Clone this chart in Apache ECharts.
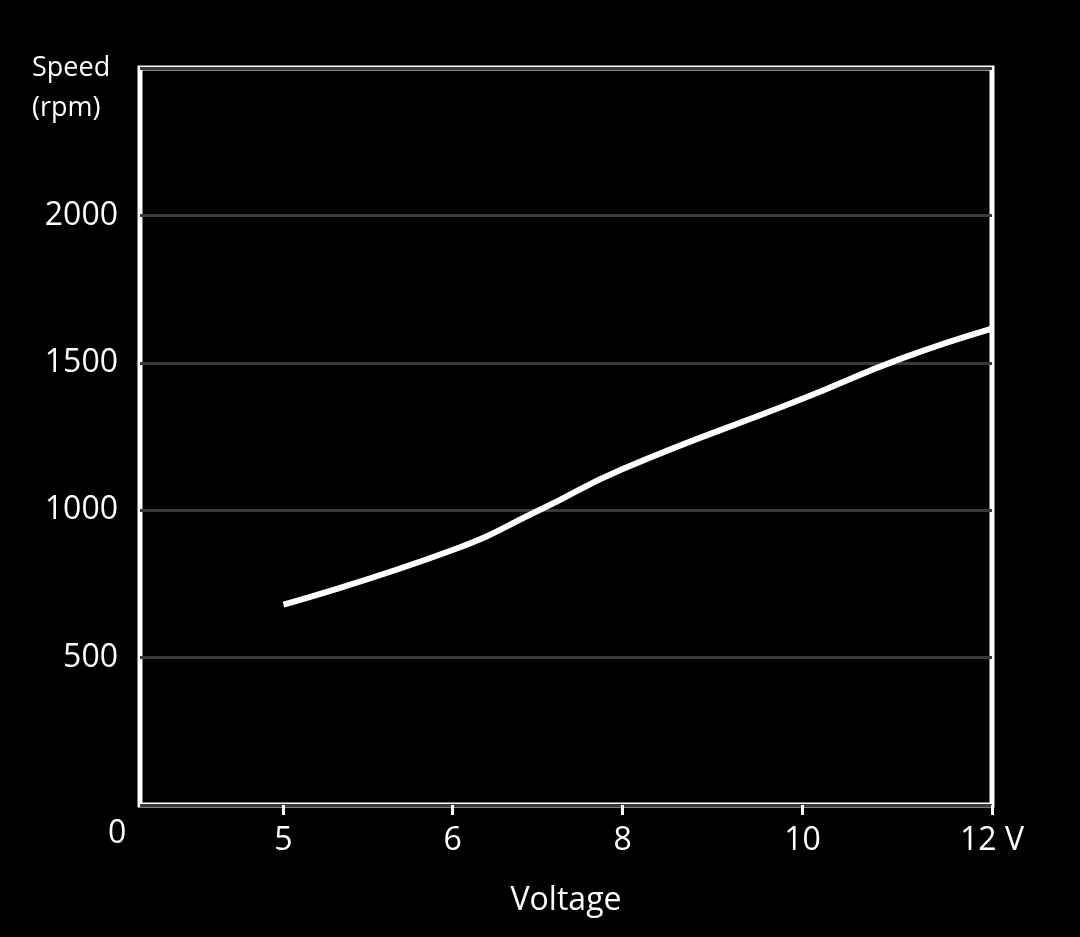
<!DOCTYPE html>
<html>
<head>
<meta charset="utf-8">
<script src="https://cdn.jsdelivr.net/npm/echarts@6/dist/echarts.min.js"></script>
<style>html,body{margin:0;background:#000}#main{width:1080px;height:937px}</style>
</head>
<body>
<div id="main"></div>
<script>
// tick voltages sit at near-even spacing on the original chart
var tickVolts = [5, 6, 8, 10, 12];
var tickPos = [1, 1.955, 2.915, 3.93, 5];
var tickLabels = ['5', '6', '8', '10', '12 V'];
var voltage = [5, 6, 7.04, 8, 10, 11.04, 12];
var speed = [680, 865, 1003, 1140, 1378, 1514, 1616];

// map a voltage onto the tick position scale
function toPos(v) {
    for (var i = 0; i < tickVolts.length - 1; i++) {
        if (v <= tickVolts[i + 1]) {
            return tickPos[i] + (v - tickVolts[i]) / (tickVolts[i + 1] - tickVolts[i]) * (tickPos[i + 1] - tickPos[i]);
        }
    }
    return tickPos[tickPos.length - 1];
}

var chart = echarts.init(document.getElementById('main'));
var font = '"Open Sans", sans-serif';
chart.setOption({
    backgroundColor: '#000',
    animation: false,
    grid: {left: 140, right: 88, top: 68, bottom: 132, show: true, borderColor: '#fff', borderWidth: 5},
    xAxis: {
        type: 'value', min: 0.19, max: 5,
        name: 'Voltage', nameLocation: 'middle', nameGap: 80,
        nameTextStyle: {color: '#fff', fontSize: 32, fontFamily: font},
        axisLine: {show: false},
        splitLine: {show: false},
        axisTick: {show: true, customValues: tickPos, length: 10, lineStyle: {color: '#fff', width: 3}},
        axisLabel: {
            customValues: tickPos, color: '#fff', fontSize: 32, fontFamily: font, margin: 20,
            formatter: function (v) { return tickLabels[tickPos.indexOf(v)]; }
        }
    },
    yAxis: {
        type: 'value', min: 0, max: 2500, interval: 500,
        axisLine: {show: false}, axisTick: {show: false},
        splitLine: {lineStyle: {color: '#3a3a3a', width: 3}},
        axisLabel: {
            color: '#fff', fontSize: 32, fontFamily: font, margin: 22,
            formatter: function (v) { return (v === 0 || v === 2500) ? '' : v; }
        }
    },
    graphic: [
        {type: 'text', left: 32, top: 48, style: {text: 'Speed\n(rpm)', fill: '#fff', font: '27px ' + font, lineHeight: 40, align: 'center'}},
        {type: 'text', left: 108, top: 818, style: {text: '0', fill: '#fff', font: '32px ' + font}}
    ],
    series: [{
        type: 'line', smooth: 0.5, symbol: 'none',
        lineStyle: {color: '#fff', width: 6},
        data: voltage.map(function (v, i) { return [toPos(v), speed[i]]; })
    }]
});
</script>
</body>
</html>
